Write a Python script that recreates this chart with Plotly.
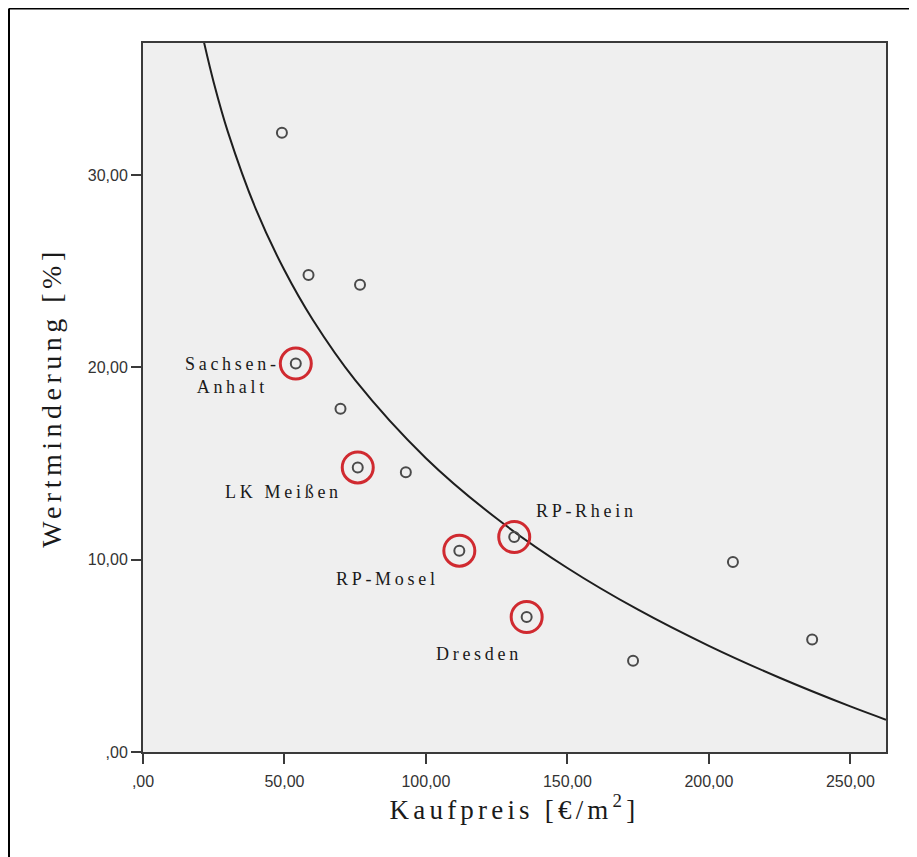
import plotly.graph_objects as go

# Data points (Kaufpreis €/m², Wertminderung %)
kaufpreis = [49.1, 58.5, 76.7, 54.0, 69.8, 75.9, 92.9, 111.8, 131.2, 135.6, 173.2, 208.5, 236.5]
wertminderung = [32.2, 24.8, 24.3, 20.2, 17.85, 14.8, 14.55, 10.47, 11.18, 7.02, 4.75, 9.88, 5.85]

# Highlighted regions
hl_names = ["Sachsen-<br>Anhalt", "LK Meißen", "RP-Rhein", "RP-Mosel", "Dresden"]
hl_x = [54.0, 75.9, 131.2, 111.8, 135.6]
hl_y = [20.2, 14.8, 11.18, 10.47, 7.02]
label_x = [31.5, 49.6, 156.6, 86.3, 118.6]
label_y = [19.6, 13.5, 12.55, 9.0, 5.1]

# Curve
curve_x = [21.6, 25, 30, 40, 50, 60, 75, 100, 125, 150, 175, 200, 225, 250, 262.6]
curve_y = [36.88, 34.82, 32.25, 28.19, 25.05, 22.48, 19.34, 15.28, 12.14, 9.57, 7.40, 5.52, 3.86, 2.37, 1.68]

x_ticks = [0, 50, 100, 150, 200, 250]
x_ticktext = [",00", "50,00", "100,00", "150,00", "200,00", "250,00"]
y_ticks = [0, 10, 20, 30]
y_ticktext = [",00", "10,00", "20,00", "30,00"]

W, H = 909, 849
L, R, T, B = 135, 31, 35, 105
pw, ph = W - L - R, H - T - B

fig = go.Figure()
fig.add_trace(go.Scatter(x=curve_x, y=curve_y, mode="lines", line=dict(color="#1e1e1e", width=2, shape="spline"),
                         hoverinfo="skip", showlegend=False))
fig.add_trace(go.Scatter(x=hl_x, y=hl_y, mode="markers",
                         marker=dict(size=31, color="rgba(0,0,0,0)", line=dict(color="#d02a30", width=3)),
                         showlegend=False))
fig.add_trace(go.Scatter(x=kaufpreis, y=wertminderung, mode="markers",
                         marker=dict(size=10, color="rgba(0,0,0,0)", line=dict(color="#4a4a4a", width=2)),
                         showlegend=False))

for t, lx, ly in zip(hl_names, label_x, label_y):
    fig.add_annotation(x=lx, y=ly, text='<span style="letter-spacing:3.7px">' + t + '</span>',
                       showarrow=False, xanchor="center", yanchor="middle",
                       font=dict(family="Liberation Serif", size=18, color="#1a1a1a"))

fig.update_layout(
    width=W, height=H,
    margin=dict(l=L, r=R, t=T, b=B),
    paper_bgcolor="white", plot_bgcolor="#efefef",
    showlegend=False,
    xaxis=dict(range=[0, 262.6], tickvals=x_ticks, ticktext=x_ticktext, showgrid=False, zeroline=False,
               showline=True, linecolor="#3a3a3a", linewidth=2, mirror=True,
               ticks="outside", ticklen=10, tickwidth=2, tickcolor="#3a3a3a", ticklabelstandoff=4,
               tickfont=dict(family="Liberation Sans", size=16, color="#333"),
               title=dict(text='<span style="letter-spacing:4.2px">Kaufpreis [€/m<sup>2</sup>]</span>',
                          font=dict(family="Liberation Serif", size=27, color="#1a1a1a"), standoff=10)),
    yaxis=dict(range=[0, 36.87], tickvals=y_ticks, ticktext=y_ticktext, showgrid=False, zeroline=False,
               showline=True, linecolor="#3a3a3a", linewidth=2, mirror=True,
               ticks="outside", ticklen=10, tickwidth=2, tickcolor="#3a3a3a",
               tickfont=dict(family="Liberation Sans", size=16, color="#333"),
               title=dict(text='<span style="letter-spacing:4.5px">Wertminderung [%]</span>',
                          font=dict(family="Liberation Serif", size=28, color="#1a1a1a"), standoff=18)),
)

# outer frame (left and top edges visible)
fx = (1 - L) / pw
fy = (ph + T - 0.5) / ph
fig.add_shape(type="line", xref="paper", yref="paper", x0=fx, x1=(W + 5 - L) / pw,
              y0=fy, y1=fy, line=dict(color="black", width=2))
fig.add_shape(type="line", xref="paper", yref="paper", x0=fx, x1=fx,
              y0=fy, y1=-(B + 5) / ph, line=dict(color="black", width=2))

fig.write_html("out.html")
